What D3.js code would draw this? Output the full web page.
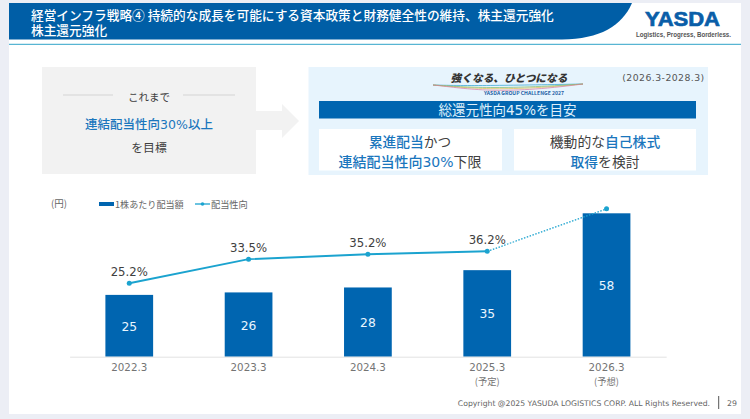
<!DOCTYPE html>
<html lang="ja">
<head>
<meta charset="utf-8">
<script src="https://cdn.jsdelivr.net/npm/d3@7"></script>
<style>
  html, body { margin: 0; padding: 0; background: #eceef5; }
  svg { display: block; }
  text { font-family: "Noto Sans CJK JP", "Noto Sans", sans-serif; }
  .num { font-family: "DejaVu Sans", "Noto Sans CJK JP", sans-serif; }
</style>
</head>
<body>
<div id="chart"></div>
<script>
// Chart data
const periods = ["2022.3", "2023.3", "2024.3", "2025.3", "2026.3"];
const periodNotes = ["", "", "", "(予定)", "(予想)"];
const dividends = [25, 26, 28, 35, 58];
const payoutRatios = [25.2, 33.5, 35.2, 36.2, 50.8];
const payoutLabels = ["25.2%", "33.5%", "35.2%", "36.2%", ""];
const titleLines = ["経営インフラ戦略④ 持続的な成長を可能にする資本政策と財務健全性の維持、株主還元強化", "株主還元強化"];

const width = 750;
const height = 419;
const blue = "#0065b0";
const teal = "#1ba3cf";
const textBlue = "#1a76bd";
const dark = "#404040";
const gray = "#747474";

const svg = d3.select("#chart").append("svg").attr("width", width).attr("height", height);

// Slide background
svg.append("rect").attr("x", 9).attr("y", 3).attr("width", 732).attr("height", 411).attr("fill", "#fff");

// Header band
svg.append("path")
  .attr("d", "M9,3H632C622,26 600,39 562,39.5H9Z")
  .attr("fill", "#005ea6");
svg.append("line").attr("x1", 9).attr("x2", 741).attr("y1", 44.3).attr("y2", 44.3)
  .attr("stroke", "#2fa3c8").attr("stroke-width", 1);

function label(x, y, str, size, fill, anchor = "middle", weight = 400) {
  return svg.append("text").attr("x", x).attr("y", y).attr("text-anchor", anchor)
    .attr("font-size", size).attr("font-weight", weight).attr("fill", fill).text(str);
}

// Mixed colour line of text, latin runs go in the wider face
function spans(x, y, parts, size) {
  const t = svg.append("text").attr("x", x).attr("y", y).attr("text-anchor", "middle").attr("font-size", size);
  parts.forEach(([str, fill, weight, cls]) => {
    t.append("tspan").attr("class", cls || null).attr("fill", fill).attr("font-weight", weight || 400).text(str);
  });
  return t;
}

// Two line title kept in one text element
const title = svg.append("text").attr("font-size", 12.7).attr("font-weight", 500).attr("fill", "#fff");
titleLines.forEach((str, i) => {
  title.append("tspan").attr("x", 31).attr("y", i === 0 ? 19.8 : 34.5).text(str);
});

// Logo
label(682.5, 26, "YASDA", 21, "#0a5ea8", "middle", 700)
  .style("font-family", "'Liberation Sans', sans-serif")
  .attr("stroke", "#0a5ea8").attr("stroke-width", 0.7)
  .attr("textLength", 75).attr("lengthAdjust", "spacingAndGlyphs");
label(683.5, 36.5, "Logistics, Progress, Borderless.", 6.3, "#555", "middle", 700)
  .style("font-family", "'Liberation Sans', sans-serif")
  .attr("textLength", 95).attr("lengthAdjust", "spacingAndGlyphs");

// Left panel
svg.append("rect").attr("x", 42).attr("y", 67).attr("width", 214).attr("height", 107).attr("fill", "#f2f2f2");
[[63, 113], [183, 235]].forEach(([a, b]) => {
  svg.append("line").attr("x1", a).attr("x2", b).attr("y1", 95).attr("y2", 95).attr("stroke", "#d4d4d4").attr("stroke-width", 1);
});
label(149, 100.5, "これまで", 10.5, dark);
spans(149, 129, [["連結配当性向", textBlue, 500], ["30%", textBlue, 400, "num"], ["以上", textBlue, 500]], 12.5);
label(149, 151.5, "を目標", 11.8, dark);

// Arrow
svg.append("path").attr("d", "M256,111H282V104L299,121L282,138V130H256Z").attr("fill", "#f2f2f2");

// Right panel
svg.append("rect").attr("x", 308.5).attr("y", 67).attr("width", 399.5).attr("height", 108).attr("fill", "#e7f4fd");
svg.append("rect").attr("x", 319).attr("y", 101).attr("width", 377).attr("height", 17.5).attr("fill", blue);
spans(507.5, 115, [["総還元性向", "#dff0fb"], ["45%", "#dff0fb", 400, "num"], ["を目安", "#dff0fb"]], 13.5);
svg.append("rect").attr("x", 319).attr("y", 129).attr("width", 183).attr("height", 41.5).attr("fill", "#fff");
svg.append("rect").attr("x", 514).attr("y", 129).attr("width", 182).attr("height", 41.5).attr("fill", "#fff");
spans(410, 147, [["累進配当", textBlue, 500], ["かつ", dark]], 13.7);
spans(410, 166.5, [["連結配当性向", textBlue, 500], ["30%", textBlue, 400, "num"], ["下限", dark]], 14);
spans(605, 147, [["機動的な", dark], ["自己株式", textBlue, 500]], 13.8);
spans(605, 166.5, [["取得", textBlue, 500], ["を検討", dark]], 13.8);
label(663.5, 80.5, "(2026.3-2028.3)", 9.3, "#555").attr("class", "num").attr("letter-spacing", 0.45);

// Slogan banner above the blue bar
label(509, 82, "強くなる、ひとつになる", 10.7, "#333", "middle", 900).attr("font-style", "italic");
[["#2a9fd0", 85.5, 86], ["#e8b84a", 92, 88], ["#7dbb6a", 89.5, 87.5], ["#d87aa0", 95, 89]].forEach(([c, y0, y1]) => {
  svg.append("path").attr("d", `M433,85C470,${y1} 500,${y0} 583,84`).attr("fill", "none").attr("stroke", c).attr("stroke-width", 0.7);
});
label(524, 95, "YASDA GROUP CHALLENGE 2027", 5.1, "#1f5fa5", "middle", 700);

// Scales
const x = d3.scaleBand().domain(periods).range([69.6, 666.2]).paddingInner(0.6).paddingOuter(0.3);
const yBar = d3.scaleLinear().domain([0, 58]).range([356.7, 213.3]);
const yLine = d3.scaleLinear().domain([25.2, 36.2]).range([283.3, 251.3]);
const cx = (d) => x(d) + x.bandwidth() / 2;

// Bars
const chart = svg.append("g");
chart.selectAll(".bar").data(periods).enter().append("rect")
  .attr("class", "bar")
  .attr("x", (d) => x(d))
  .attr("width", x.bandwidth())
  .attr("y", (d, i) => yBar(dividends[i]))
  .attr("height", (d, i) => yBar(0) - yBar(dividends[i]))
  .attr("fill", blue);

chart.selectAll(".bar-label").data(periods).enter().append("text")
  .attr("class", "bar-label num")
  .attr("x", cx)
  .attr("y", (d, i) => (yBar(dividends[i]) + yBar(0)) / 2 + 5)
  .attr("text-anchor", "middle")
  .attr("font-size", 12.3)
  .attr("fill", "#eaf6ff")
  .text((d, i) => dividends[i]);

// Baseline and period labels
const axis = svg.append("g").attr("transform", `translate(0,${yBar(0)})`)
  .call(d3.axisBottom(x).tickSize(0).tickPadding(7));
axis.select(".domain").attr("stroke", "#e3e3e3").attr("stroke-width", 1);
axis.selectAll("text").attr("class", "num").attr("font-size", 10.3).attr("fill", gray).style("font-family", "'DejaVu Sans', sans-serif");
chart.selectAll(".period-note").data(periods).enter().append("text")
  .attr("class", "period-note")
  .attr("x", cx)
  .attr("y", 385)
  .attr("text-anchor", "middle")
  .attr("font-size", 9.3)
  .attr("fill", gray)
  .text((d, i) => periodNotes[i]);

// Payout ratio line, solid for actuals and dotted towards the forecast
const line = d3.line().x((d) => cx(d.period)).y((d) => yLine(d.value));
const points = periods.map((period, i) => ({ period, value: payoutRatios[i], text: payoutLabels[i] }));
chart.append("path").datum(points.slice(0, 4)).attr("d", line)
  .attr("fill", "none").attr("stroke", teal).attr("stroke-width", 1.9);
chart.append("path").datum(points.slice(3)).attr("d", line)
  .attr("fill", "none").attr("stroke", teal).attr("stroke-width", 1.3).attr("stroke-dasharray", "1.5 1.5");
chart.selectAll(".point").data(points).enter().append("circle")
  .attr("class", "point")
  .attr("cx", (d) => cx(d.period))
  .attr("cy", (d) => yLine(d.value))
  .attr("r", 2.5)
  .attr("fill", teal);
chart.selectAll(".point-label").data(points).enter().append("text")
  .attr("class", "point-label num")
  .attr("x", (d) => cx(d.period))
  .attr("y", (d) => yLine(d.value) - 7.5)
  .attr("text-anchor", "middle")
  .attr("font-size", 11.7)
  .attr("fill", dark)
  .text((d) => d.text);

// Legend
label(59, 207, "(円)", 9.5, "#666");
svg.append("rect").attr("x", 99).attr("y", 202).attr("width", 15).attr("height", 4).attr("fill", blue);
label(115, 208, "1株あたり配当額", 9.1, "#666", "start");
svg.append("line").attr("x1", 195).attr("x2", 210).attr("y1", 204).attr("y2", 204).attr("stroke", teal).attr("stroke-width", 1.3);
svg.append("circle").attr("cx", 202.5).attr("cy", 204).attr("r", 1.8).attr("fill", teal);
label(211, 208, "配当性向", 9.2, "#666", "start");

// Footer
label(710, 406, "Copyright @2025 YASUDA LOGISTICS CORP.   ALL Rights Reserved.", 7.7, "#666", "end")
  .attr("class", "num");
svg.append("line").attr("x1", 718.7).attr("x2", 718.7).attr("y1", 396).attr("y2", 409).attr("stroke", "#555").attr("stroke-width", 1);
label(732, 406, "29", 7.8, "#666").attr("class", "num");
</script>
</body>
</html>
